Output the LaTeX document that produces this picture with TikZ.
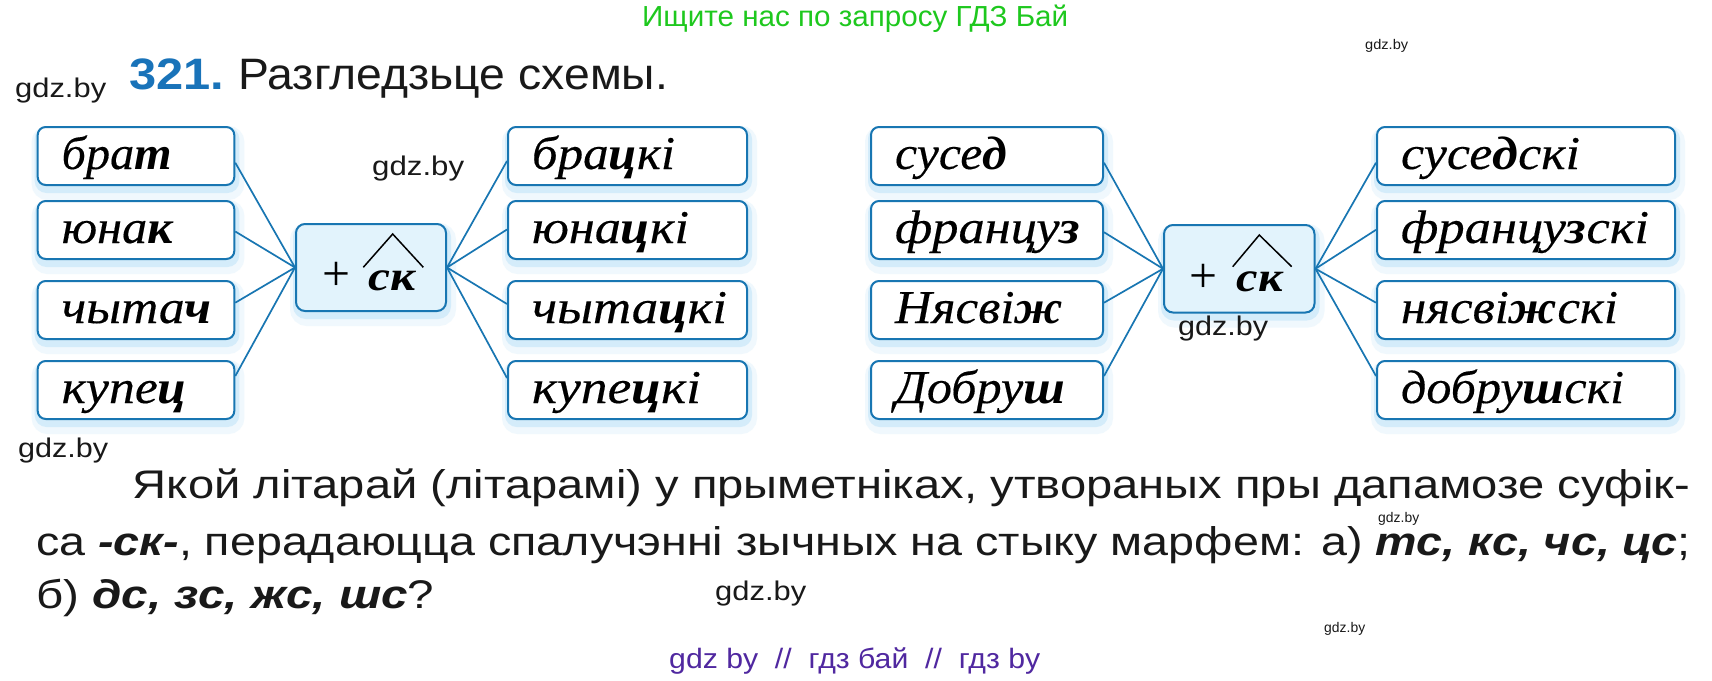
\documentclass[tikz,border=0pt]{standalone}
\usepackage{fontspec}
\usepackage{graphicx}
\setmainfont{Liberation Serif}
\newfontfamily\sansf{Liberation Sans}
\newfontfamily\boxf{Liberation Serif}[ItalicFeatures={FakeBold=0.3}]
\usetikzlibrary{calc}
\definecolor{bord}{RGB}{24,118,178}
\definecolor{cfill}{RGB}{226,243,252}
\definecolor{glowc}{RGB}{150,210,245}
\definecolor{numblue}{RGB}{25,115,185}
\definecolor{wmgreen}{RGB}{30,200,30}
\definecolor{wmpurple}{RGB}{80,40,160}
\definecolor{txt}{RGB}{25,25,25}
\newcommand\fw[2]{\resizebox{#1pt}{\height}{#2}}
\tikzset{
  glow/.style={
    preaction={draw=glowc, line width=16pt, draw opacity=0.14, transform canvas={xshift=2pt,yshift=-7pt}},
    preaction={draw=glowc, line width=8pt, draw opacity=0.3, transform canvas={xshift=1pt,yshift=-4pt}}},
  wbox/.style={glow, draw=bord, line width=2pt, rounded corners=8pt, fill=white,
    inner xsep=24pt, inner ysep=0pt, text height=42pt, text depth=16pt,
    align=left, anchor=north west, font=\boxf\fontsize{47}{50}\selectfont\itshape, text=black},
  cbox/.style={glow, draw=bord, line width=2pt, rounded corners=9pt, fill=cfill,
    inner sep=0pt, anchor=north west},
  conn/.style={draw=bord, line width=1.7pt},
  hatline/.style={draw=black, line width=1.5pt},
  plusnode/.style={inner sep=0pt, font=\fontsize{50}{50}\selectfont},
  sknode/.style={anchor=base west, inner sep=0pt, font=\fontsize{42}{42}\selectfont\bfseries\itshape},
  lbl/.style={anchor=base west, inner sep=0pt},
  wm/.style={lbl, text=txt, font=\sansf\fontsize{27}{27}\selectfont},
  wms/.style={lbl, text=txt, font=\sansf\fontsize{14}{14}\selectfont},
  para/.style={lbl, text=txt, font=\sansf\fontsize{40}{40}\selectfont}
}
\begin{document}
\begin{tikzpicture}[x=1pt,y=-1pt]
\useasboundingbox[fill=white] (0,0) rectangle (1712,680);

% ---------- header ----------
\node[lbl, text=wmgreen, font=\sansf\fontsize{29}{29}\selectfont] (top) at (642,26) {\fw{426}{Ищите нас по запросу ГДЗ Бай}};
\node[wms] (wmA) at (1365,49) {\fw{43}{gdz.by}};
\node[lbl, text=numblue, font=\sansf\bfseries\fontsize{44}{44}\selectfont] (num) at (129,89) {\fw{95}{321.}};
\node[lbl, text=txt, font=\sansf\fontsize{44}{44}\selectfont] (head) at (238,89) {\fw{430}{Разгледзьце схемы.}};
\node[wm] (wmB) at (15,97) {\fw{91}{gdz.by}};

% ---------- left scheme ----------
\node[wbox, text width=148.6pt] (a1) at (36.7,126) {\fw{110}{бра\textbf{т}}};
\node[wbox, text width=148.6pt] (a2) at (36.7,200) {\fw{111}{юна\textbf{к}}};
\node[wbox, text width=148.6pt] (a3) at (36.7,280) {\fw{150}{чыта\textbf{ч}}};
\node[wbox, text width=148.6pt] (a4) at (36.7,360) {\fw{125}{купе\textbf{ц}}};

\node[cbox, minimum width=150pt, minimum height=87pt] (c1) at (295,223) {};

\node[wbox, text width=191pt] (b1) at (507,126) {\fw{143}{бра\textbf{ц}кі}};
\node[wbox, text width=191pt] (b2) at (507,200) {\fw{157}{юна\textbf{ц}кі}};
\node[wbox, text width=191pt] (b3) at (507,280) {\fw{195}{чыта\textbf{ц}кі}};
\node[wbox, text width=191pt] (b4) at (507,360) {\fw{169}{купе\textbf{ц}кі}};

\draw[conn] ([yshift=-6.7pt]a1.east) -- (c1.west);
\draw[conn] ([yshift=-1.5pt]a2.east) -- (c1.west);
\draw[conn] ([yshift=7.3pt]a3.east) -- (c1.west);
\draw[conn] ([yshift=14pt]a4.east) -- (c1.west);
\draw[conn] (c1.east) -- ([yshift=-5pt]b1.west);
\draw[conn] (c1.east) -- ([yshift=0.5pt]b2.west);
\draw[conn] (c1.east) -- ([yshift=6pt]b3.west);
\draw[conn] (c1.east) -- ([yshift=12pt]b4.west);

\node[plusnode] (p1) at (336,276.7) {\fw{28}{+}};
\node[sknode] (s1) at (368,290) {\fw{47}{ск}};
\draw[hatline] (363.3,267.3) -- (392.7,234) -- (423.3,267.3);

\node[wm] (wmC) at (372,175) {\fw{92}{gdz.by}};

% ---------- right scheme ----------
\node[wbox, text width=184pt] (d1) at (870,126) {\fw{112}{сусе\textbf{д}}};
\node[wbox, text width=184pt] (d2) at (870,200) {\fw{185}{францу\textbf{з}}};
\node[wbox, text width=184pt] (d3) at (870,280) {\fw{168}{Нясві\textbf{ж}}};
\node[wbox, text width=184pt] (d4) at (870,360) {\fw{170}{Добру\textbf{ш}}};

\node[cbox, minimum width=150.5pt, minimum height=87.5pt] (c2) at (1163,224) {};

\node[wbox, text width=250pt] (e1) at (1376,126) {\fw{179}{сусе\textbf{д}скі}};
\node[wbox, text width=250pt] (e2) at (1376,200) {\fw{248}{францу\textbf{з}скі}};
\node[wbox, text width=250pt] (e3) at (1376,280) {\fw{217}{нясві\textbf{ж}скі}};
\node[wbox, text width=250pt] (e4) at (1376,360) {\fw{223}{добру\textbf{ш}скі}};

\draw[conn] ([yshift=-6.7pt]d1.east) -- (c2.west);
\draw[conn] ([yshift=-2.2pt]d2.east) -- (c2.west);
\draw[conn] ([yshift=7.3pt]d3.east) -- (c2.west);
\draw[conn] ([yshift=14pt]d4.east) -- (c2.west);
\draw[conn] (c2.east) -- ([yshift=-6.7pt]e1.west);
\draw[conn] (c2.east) -- ([yshift=0.2pt]e2.west);
\draw[conn] (c2.east) -- ([yshift=7.3pt]e3.west);
\draw[conn] (c2.east) -- ([yshift=14pt]e4.west);

\node[plusnode] (p2) at (1203.3,278.3) {\fw{28}{+}};
\node[sknode] (s2) at (1236.7,291.7) {\fw{46}{ск}};
\draw[hatline] (1232.7,266.7) -- (1259.3,235) -- (1291.7,266.7);

\node[wm] (wmD) at (1178,335) {\fw{90}{gdz.by}};

% ---------- question ----------
\node[wm] (wmE) at (18,457) {\fw{90}{gdz.by}};
\node[para] (L1) at (132.7,498.3) {\fw{1557}{Якой літарай (літарамі) у прыметніках, утвораных пры дапамозе суфік-}};
\node[wms] (wmF) at (1378,522) {\fw{41}{gdz.by}};
\node[para] (L2) at (36,555) {\fw{1654}{са \textbf{\textit{-ск-}}, перадаюцца спалучэнні зычных на стыку марфем: а) \textbf{\textit{тс, кс, чс, цс}};}};
\node[para] (L3) at (36,608.3) {\fw{398}{б) \textbf{\textit{дс, зс, жс, шс}}?}};
\node[wm] (wmG) at (715,600) {\fw{91}{gdz.by}};
\node[wms] (wmH) at (1324,632) {\fw{41}{gdz.by}};
\node[lbl, text=wmpurple, font=\sansf\fontsize{28}{28}\selectfont] (bot) at (669,668) {\fw{371}{gdz by \ // \ гдз бай \ // \ гдз by}};
\end{tikzpicture}
\end{document}
